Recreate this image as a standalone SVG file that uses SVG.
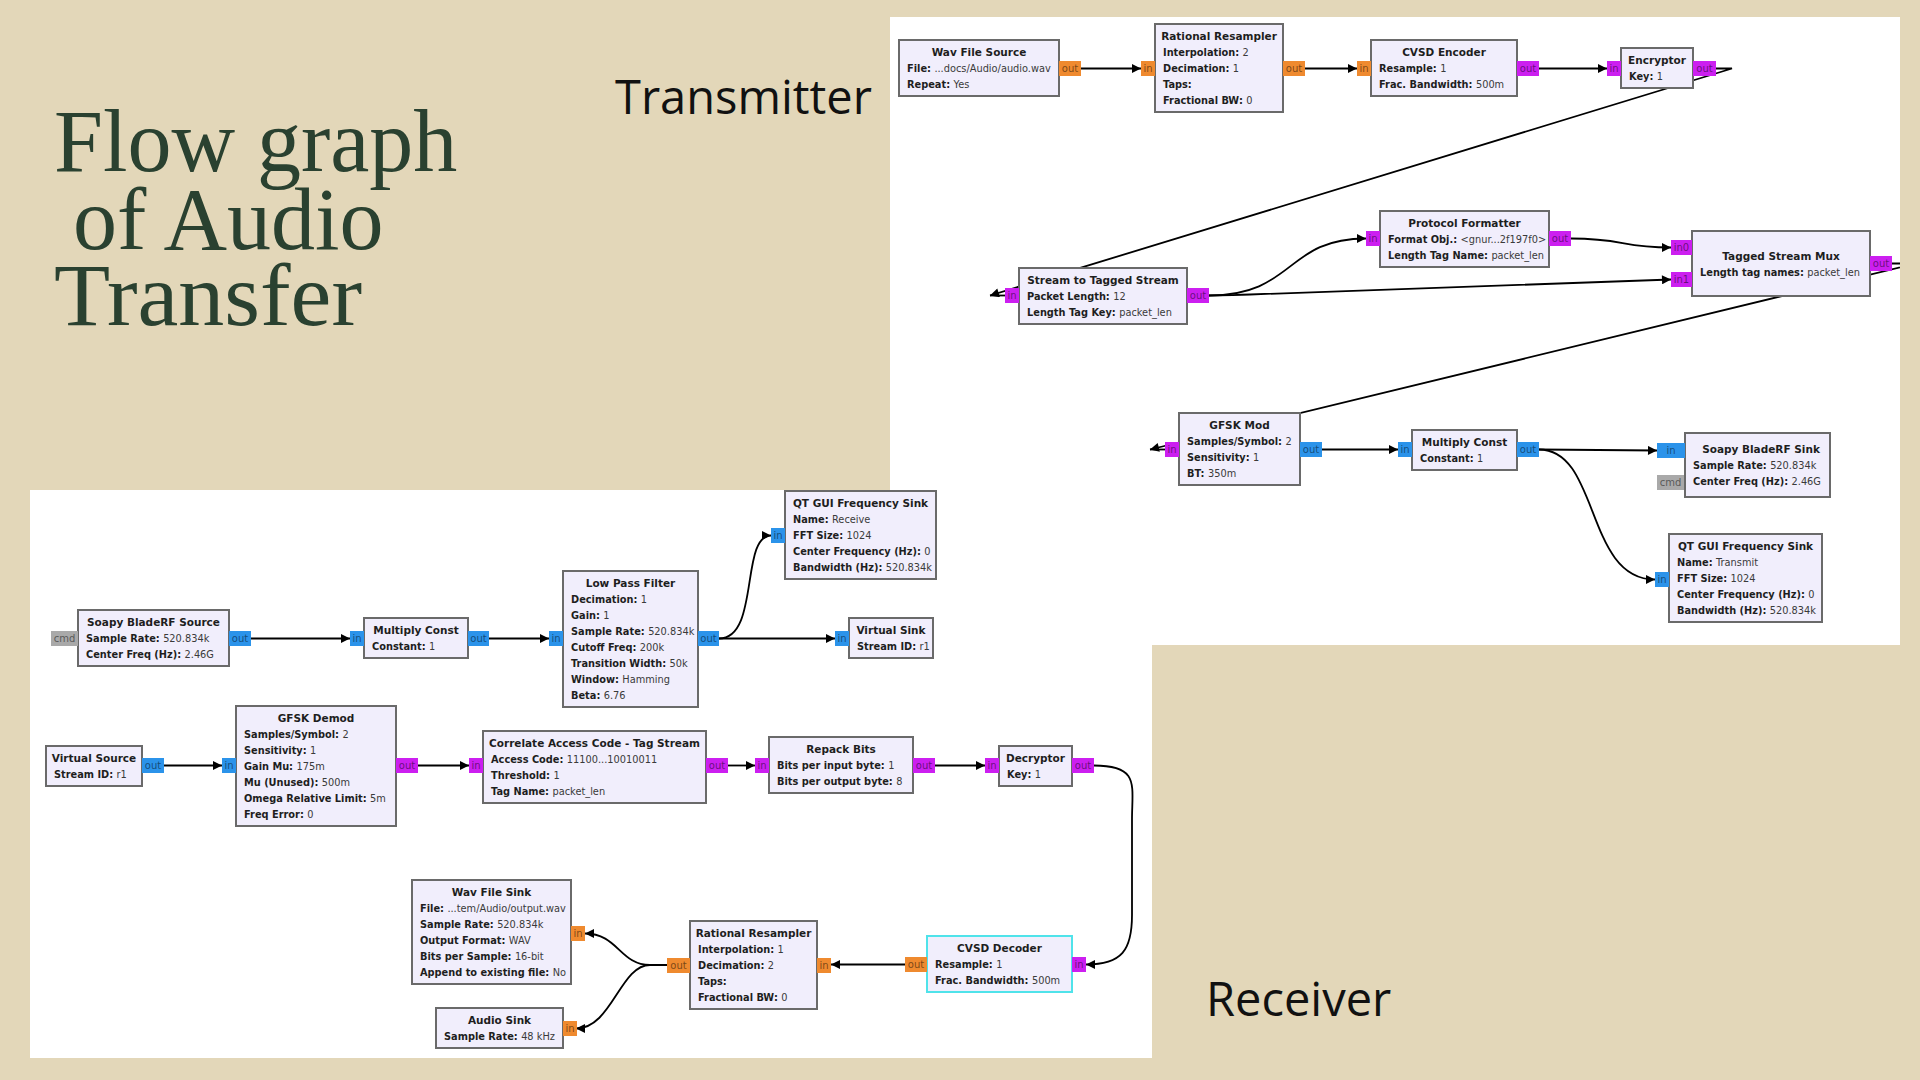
<svg xmlns="http://www.w3.org/2000/svg" width="1920" height="1080" viewBox="0 0 1920 1080">
<defs>
<style>
.bg{fill:#e3d7b9}
.panel{fill:#ffffff}
.blk{fill:#f1eefc;stroke:#6a6a6a;stroke-width:2}
.sel{fill:#f1eefc;stroke:#4fe3ea;stroke-width:2}
.tt{font-family:"DejaVu Sans",sans-serif;font-size:10.5px;font-weight:bold;fill:#1e1e1e;text-anchor:middle}
.r{font-family:"DejaVu Sans",sans-serif;font-size:9.8px;font-weight:bold;fill:#1e1e1e}
.v{font-weight:normal;fill:#3a3a3a}
.po{fill:#ef8a2f}
.pm{fill:#cc1ff0}
.pb{fill:#2b93ea}
.pg{fill:#a9a9a9}
.pl{font-family:"DejaVu Sans",sans-serif;font-size:10px;fill:#000;fill-opacity:0.5;text-anchor:middle}
.c{fill:none;stroke:#000;stroke-width:1.8}
.a{marker-end:url(#ah)}
.h1{font-family:"Liberation Serif",serif;font-size:88px;fill:#2a4130}
.h2{font-family:"Open Sans","Noto Sans",sans-serif;font-size:47px;fill:#111}
</style>
<marker id="ah" viewBox="0 0 10 10" refX="10" refY="5" markerWidth="11" markerHeight="9" markerUnits="userSpaceOnUse" orient="auto"><path d="M0,0 L10,5 L0,10 z" fill="#000"/></marker>
<clipPath id="txclip"><rect x="890" y="17" width="1010" height="628"/></clipPath>
<clipPath id="rxclip"><rect x="30" y="490" width="1122" height="568"/></clipPath>
</defs>
<rect class="bg" x="0" y="0" width="1920" height="1080"/>

<g id="heading">
<text class="h1" x="54" y="171">Flow graph</text>
<text class="h1" x="73" y="249">of Audio</text>
<text class="h1" x="54" y="325" textLength="308" lengthAdjust="spacingAndGlyphs">Transfer</text>
<text class="h2" x="615" y="114">Transmitter</text>
<text class="h2" x="1206" y="1016">Receiver</text>
</g>

<rect id="tx-panel" class="panel" x="890" y="17" width="1010" height="628"/>
<rect id="rx-panel" class="panel" x="30" y="490" width="1122" height="568"/>

<g id="connectors">
<g clip-path="url(#txclip)">
<path class="c a" d="M1081,68.5 L1141,68.5"/>
<path class="c a" d="M1305,68.5 L1357,68.5"/>
<path class="c a" d="M1539,68.5 L1607,68.5"/>
<path class="c a" d="M1716,68.5 L1732,68.5 L990,295.5"/>
<path class="c" d="M990,295.5 L1005,295.5"/>
<path class="c a" d="M1209,295.5 C1295,295.5 1285,238.5 1366,238.5"/>
<path class="c a" d="M1209,295.5 C1225,295.5 1230,295 1250,294.5 L1671,279.5"/>
<path class="c a" d="M1571,238.5 C1625,238.5 1620,247.5 1671,247.5"/>
<path class="c a" d="M1892,263.5 L1916,263.5 L1150,449.5"/>
<path class="c" d="M1150,449.5 L1165,449.5"/>
<path class="c a" d="M1322,449.5 L1398,449.5"/>
<path class="c a" d="M1539,449.5 L1657,450.5"/>
<path class="c a" d="M1539,449.5 C1600,449.5 1585,579.5 1655,579.5"/>
</g>
<g clip-path="url(#rxclip)">
<path class="c a" d="M251,638.5 L350,638.5"/>
<path class="c a" d="M489,638.5 L549,638.5"/>
<path class="c a" d="M719,638.5 L835,638.5"/>
<path class="c a" d="M719,638.5 C760,638.5 740,535.5 771,535.5"/>
<path class="c a" d="M164,765.5 L222,765.5"/>
<path class="c a" d="M418,765.5 L469,765.5"/>
<path class="c a" d="M728,765.5 L755,765.5"/>
<path class="c a" d="M935,765.5 L985,765.5"/>
<path class="c a" d="M1094,765.5 C1140,765.5 1132,785 1132,820 L1132,915 C1132,950 1122,964.5 1086,964.5"/>
<path class="c a" d="M905,964.5 L831,964.5"/>
<path class="c a" d="M667,965 L650,965 C620,965 618,933.5 585,933.5"/>
<path class="c a" d="M667,965 L650,965 C620,965 612,1028.5 576,1028.5"/>
</g>
</g>

<!-- Transmitter nodes -->
<g id="tx-wav-file-source">
<rect class="blk" x="899" y="40" width="160" height="56"/>
<text class="tt" x="979" y="56">Wav File Source</text>
<text class="r" x="907" y="72">File: <tspan class="v">...docs/Audio/audio.wav</tspan></text>
<text class="r" x="907" y="88">Repeat: <tspan class="v">Yes</tspan></text>
<rect class="po" x="1059" y="61" width="22" height="15"/><text class="pl" x="1070" y="72">out</text>
</g>
<g id="tx-rational-resampler">
<rect class="blk" x="1155" y="24" width="128" height="88"/>
<text class="tt" x="1219" y="40">Rational Resampler</text>
<text class="r" x="1163" y="56">Interpolation: <tspan class="v">2</tspan></text>
<text class="r" x="1163" y="72">Decimation: <tspan class="v">1</tspan></text>
<text class="r" x="1163" y="88">Taps:</text>
<text class="r" x="1163" y="104">Fractional BW: <tspan class="v">0</tspan></text>
<rect class="po" x="1141" y="61" width="14" height="15"/><text class="pl" x="1148" y="72">in</text>
<rect class="po" x="1283" y="61" width="22" height="15"/><text class="pl" x="1294" y="72">out</text>
</g>
<g id="tx-cvsd-encoder">
<rect class="blk" x="1371" y="40" width="146" height="56"/>
<text class="tt" x="1444" y="56">CVSD Encoder</text>
<text class="r" x="1379" y="72">Resample: <tspan class="v">1</tspan></text>
<text class="r" x="1379" y="88">Frac. Bandwidth: <tspan class="v">500m</tspan></text>
<rect class="po" x="1357" y="61" width="14" height="15"/><text class="pl" x="1364" y="72">in</text>
<rect class="pm" x="1517" y="61" width="22" height="15"/><text class="pl" x="1528" y="72">out</text>
</g>
<g id="tx-encryptor">
<rect class="blk" x="1621" y="48" width="72" height="40"/>
<text class="tt" x="1657" y="64">Encryptor</text>
<text class="r" x="1629" y="80">Key: <tspan class="v">1</tspan></text>
<rect class="pm" x="1607" y="61" width="14" height="15"/><text class="pl" x="1614" y="72">in</text>
<rect class="pm" x="1693" y="61" width="23" height="15"/><text class="pl" x="1704.5" y="72">out</text>
</g>
<g id="tx-stream-to-tagged-stream">
<rect class="blk" x="1019" y="268" width="168" height="56"/>
<text class="tt" x="1103" y="284">Stream to Tagged Stream</text>
<text class="r" x="1027" y="300">Packet Length: <tspan class="v">12</tspan></text>
<text class="r" x="1027" y="316">Length Tag Key: <tspan class="v">packet_len</tspan></text>
<rect class="pm" x="1005" y="288" width="14" height="15"/><text class="pl" x="1012" y="299">in</text>
<rect class="pm" x="1187" y="288" width="22" height="15"/><text class="pl" x="1198" y="299">out</text>
</g>
<g id="tx-protocol-formatter">
<rect class="blk" x="1380" y="211" width="169" height="56"/>
<text class="tt" x="1464.5" y="227">Protocol Formatter</text>
<text class="r" x="1388" y="243">Format Obj.: <tspan class="v">&lt;gnur...2f197f0&gt;</tspan></text>
<text class="r" x="1388" y="259">Length Tag Name: <tspan class="v">packet_len</tspan></text>
<rect class="pm" x="1366" y="231" width="14" height="15"/><text class="pl" x="1373" y="242">in</text>
<rect class="pm" x="1549" y="231" width="22" height="15"/><text class="pl" x="1560" y="242">out</text>
</g>
<g id="tx-tagged-stream-mux">
<rect class="blk" x="1692" y="231" width="178" height="65"/>
<text class="tt" x="1781" y="260">Tagged Stream Mux</text>
<text class="r" x="1700" y="276">Length tag names: <tspan class="v">packet_len</tspan></text>
<rect class="pm" x="1671" y="240" width="21" height="15"/><text class="pl" x="1681.5" y="251">in0</text>
<rect class="pm" x="1671" y="272" width="21" height="15"/><text class="pl" x="1681.5" y="283">in1</text>
<rect class="pm" x="1870" y="256" width="22" height="15"/><text class="pl" x="1881" y="267">out</text>
</g>
<g id="tx-gfsk-mod">
<rect class="blk" x="1179" y="413" width="121" height="72"/>
<text class="tt" x="1239.5" y="429">GFSK Mod</text>
<text class="r" x="1187" y="445">Samples/Symbol: <tspan class="v">2</tspan></text>
<text class="r" x="1187" y="461">Sensitivity: <tspan class="v">1</tspan></text>
<text class="r" x="1187" y="477">BT: <tspan class="v">350m</tspan></text>
<rect class="pm" x="1165" y="442" width="14" height="15"/><text class="pl" x="1172" y="453">in</text>
<rect class="pb" x="1300" y="442" width="22" height="15"/><text class="pl" x="1311" y="453">out</text>
</g>
<g id="tx-multiply-const">
<rect class="blk" x="1412" y="430" width="105" height="40"/>
<text class="tt" x="1464.5" y="446">Multiply Const</text>
<text class="r" x="1420" y="462">Constant: <tspan class="v">1</tspan></text>
<rect class="pb" x="1398" y="442" width="14" height="15"/><text class="pl" x="1405" y="453">in</text>
<rect class="pb" x="1517" y="442" width="22" height="15"/><text class="pl" x="1528" y="453">out</text>
</g>
<g id="tx-soapy-bladerf-sink">
<rect class="blk" x="1685" y="433" width="145" height="64"/>
<text class="tt" x="1761" y="453">Soapy BladeRF Sink</text>
<text class="r" x="1693" y="469">Sample Rate: <tspan class="v">520.834k</tspan></text>
<text class="r" x="1693" y="485">Center Freq (Hz): <tspan class="v">2.46G</tspan></text>
<rect class="pb" x="1657" y="443" width="28" height="15"/><text class="pl" x="1671" y="454">in</text>
<rect class="pg" x="1657" y="475" width="27" height="15"/><text class="pl" x="1670.5" y="486">cmd</text>
</g>
<g id="tx-qt-gui-frequency-sink">
<rect class="blk" x="1669" y="534" width="153" height="88"/>
<text class="tt" x="1745.5" y="550">QT GUI Frequency Sink</text>
<text class="r" x="1677" y="566">Name: <tspan class="v">Transmit</tspan></text>
<text class="r" x="1677" y="582">FFT Size: <tspan class="v">1024</tspan></text>
<text class="r" x="1677" y="598">Center Frequency (Hz): <tspan class="v">0</tspan></text>
<text class="r" x="1677" y="614">Bandwidth (Hz): <tspan class="v">520.834k</tspan></text>
<rect class="pb" x="1655" y="572" width="14" height="15"/><text class="pl" x="1662" y="583">in</text>
</g>

<!-- Receiver nodes -->
<g id="rx-soapy-bladerf-source">
<rect class="blk" x="78" y="610" width="151" height="56"/>
<text class="tt" x="153.5" y="626">Soapy BladeRF Source</text>
<text class="r" x="86" y="642">Sample Rate: <tspan class="v">520.834k</tspan></text>
<text class="r" x="86" y="658">Center Freq (Hz): <tspan class="v">2.46G</tspan></text>
<rect class="pg" x="51" y="631" width="27" height="15"/><text class="pl" x="64.5" y="642">cmd</text>
<rect class="pb" x="229" y="631" width="22" height="15"/><text class="pl" x="240" y="642">out</text>
</g>
<g id="rx-multiply-const">
<rect class="blk" x="364" y="618" width="104" height="40"/>
<text class="tt" x="416" y="634">Multiply Const</text>
<text class="r" x="372" y="650">Constant: <tspan class="v">1</tspan></text>
<rect class="pb" x="350" y="631" width="14" height="15"/><text class="pl" x="357" y="642">in</text>
<rect class="pb" x="468" y="631" width="21" height="15"/><text class="pl" x="478.5" y="642">out</text>
</g>
<g id="rx-low-pass-filter">
<rect class="blk" x="563" y="571" width="135" height="136"/>
<text class="tt" x="630.5" y="587">Low Pass Filter</text>
<text class="r" x="571" y="603">Decimation: <tspan class="v">1</tspan></text>
<text class="r" x="571" y="619">Gain: <tspan class="v">1</tspan></text>
<text class="r" x="571" y="635">Sample Rate: <tspan class="v">520.834k</tspan></text>
<text class="r" x="571" y="651">Cutoff Freq: <tspan class="v">200k</tspan></text>
<text class="r" x="571" y="667">Transition Width: <tspan class="v">50k</tspan></text>
<text class="r" x="571" y="683">Window: <tspan class="v">Hamming</tspan></text>
<text class="r" x="571" y="699">Beta: <tspan class="v">6.76</tspan></text>
<rect class="pb" x="549" y="631" width="14" height="15"/><text class="pl" x="556" y="642">in</text>
<rect class="pb" x="698" y="631" width="21" height="15"/><text class="pl" x="708.5" y="642">out</text>
</g>
<g id="rx-qt-gui-frequency-sink">
<rect class="blk" x="785" y="491" width="151" height="88"/>
<text class="tt" x="860.5" y="507">QT GUI Frequency Sink</text>
<text class="r" x="793" y="523">Name: <tspan class="v">Receive</tspan></text>
<text class="r" x="793" y="539">FFT Size: <tspan class="v">1024</tspan></text>
<text class="r" x="793" y="555">Center Frequency (Hz): <tspan class="v">0</tspan></text>
<text class="r" x="793" y="571">Bandwidth (Hz): <tspan class="v">520.834k</tspan></text>
<rect class="pb" x="771" y="528" width="14" height="15"/><text class="pl" x="778" y="539">in</text>
</g>
<g id="rx-virtual-sink">
<rect class="blk" x="849" y="618" width="84" height="40"/>
<text class="tt" x="891" y="634">Virtual Sink</text>
<text class="r" x="857" y="650">Stream ID: <tspan class="v">r1</tspan></text>
<rect class="pb" x="835" y="631" width="14" height="15"/><text class="pl" x="842" y="642">in</text>
</g>
<g id="rx-virtual-source">
<rect class="blk" x="46" y="746" width="96" height="40"/>
<text class="tt" x="94" y="762">Virtual Source</text>
<text class="r" x="54" y="778">Stream ID: <tspan class="v">r1</tspan></text>
<rect class="pb" x="142" y="758" width="22" height="15"/><text class="pl" x="153" y="769">out</text>
</g>
<g id="rx-gfsk-demod">
<rect class="blk" x="236" y="706" width="160" height="120"/>
<text class="tt" x="316" y="722">GFSK Demod</text>
<text class="r" x="244" y="738">Samples/Symbol: <tspan class="v">2</tspan></text>
<text class="r" x="244" y="754">Sensitivity: <tspan class="v">1</tspan></text>
<text class="r" x="244" y="770">Gain Mu: <tspan class="v">175m</tspan></text>
<text class="r" x="244" y="786">Mu (Unused): <tspan class="v">500m</tspan></text>
<text class="r" x="244" y="802">Omega Relative Limit: <tspan class="v">5m</tspan></text>
<text class="r" x="244" y="818">Freq Error: <tspan class="v">0</tspan></text>
<rect class="pb" x="222" y="758" width="14" height="15"/><text class="pl" x="229" y="769">in</text>
<rect class="pm" x="396" y="758" width="22" height="15"/><text class="pl" x="407" y="769">out</text>
</g>
<g id="rx-correlate-access-code">
<rect class="blk" x="483" y="731" width="223" height="72"/>
<text class="tt" x="594.5" y="747">Correlate Access Code - Tag Stream</text>
<text class="r" x="491" y="763">Access Code: <tspan class="v">11100...10010011</tspan></text>
<text class="r" x="491" y="779">Threshold: <tspan class="v">1</tspan></text>
<text class="r" x="491" y="795">Tag Name: <tspan class="v">packet_len</tspan></text>
<rect class="pm" x="469" y="758" width="14" height="15"/><text class="pl" x="476" y="769">in</text>
<rect class="pm" x="706" y="758" width="22" height="15"/><text class="pl" x="717" y="769">out</text>
</g>
<g id="rx-repack-bits">
<rect class="blk" x="769" y="737" width="144" height="56"/>
<text class="tt" x="841" y="753">Repack Bits</text>
<text class="r" x="777" y="769">Bits per input byte: <tspan class="v">1</tspan></text>
<text class="r" x="777" y="785">Bits per output byte: <tspan class="v">8</tspan></text>
<rect class="pm" x="755" y="758" width="14" height="15"/><text class="pl" x="762" y="769">in</text>
<rect class="pm" x="913" y="758" width="22" height="15"/><text class="pl" x="924" y="769">out</text>
</g>
<g id="rx-decryptor">
<rect class="blk" x="999" y="746" width="73" height="40"/>
<text class="tt" x="1035.5" y="762">Decryptor</text>
<text class="r" x="1007" y="778">Key: <tspan class="v">1</tspan></text>
<rect class="pm" x="985" y="758" width="14" height="15"/><text class="pl" x="992" y="769">in</text>
<rect class="pm" x="1072" y="758" width="22" height="15"/><text class="pl" x="1083" y="769">out</text>
</g>
<g id="rx-cvsd-decoder">
<rect class="sel" x="927" y="936" width="145" height="56"/>
<text class="tt" x="999.5" y="952">CVSD Decoder</text>
<text class="r" x="935" y="968">Resample: <tspan class="v">1</tspan></text>
<text class="r" x="935" y="984">Frac. Bandwidth: <tspan class="v">500m</tspan></text>
<rect class="pm" x="1072" y="957" width="14" height="15"/><text class="pl" x="1079" y="968">in</text>
<rect class="po" x="905" y="957" width="22" height="15"/><text class="pl" x="916" y="968">out</text>
</g>
<g id="rx-rational-resampler">
<rect class="blk" x="690" y="921" width="127" height="88"/>
<text class="tt" x="753.5" y="937">Rational Resampler</text>
<text class="r" x="698" y="953">Interpolation: <tspan class="v">1</tspan></text>
<text class="r" x="698" y="969">Decimation: <tspan class="v">2</tspan></text>
<text class="r" x="698" y="985">Taps:</text>
<text class="r" x="698" y="1001">Fractional BW: <tspan class="v">0</tspan></text>
<rect class="po" x="817" y="958" width="14" height="15"/><text class="pl" x="824" y="969">in</text>
<rect class="po" x="667" y="958" width="23" height="15"/><text class="pl" x="678.5" y="969">out</text>
</g>
<g id="rx-wav-file-sink">
<rect class="blk" x="412" y="880" width="159" height="104"/>
<text class="tt" x="491.5" y="896">Wav File Sink</text>
<text class="r" x="420" y="912">File: <tspan class="v">...tem/Audio/output.wav</tspan></text>
<text class="r" x="420" y="928">Sample Rate: <tspan class="v">520.834k</tspan></text>
<text class="r" x="420" y="944">Output Format: <tspan class="v">WAV</tspan></text>
<text class="r" x="420" y="960">Bits per Sample: <tspan class="v">16-bit</tspan></text>
<text class="r" x="420" y="976">Append to existing file: <tspan class="v">No</tspan></text>
<rect class="po" x="571" y="926" width="14" height="15"/><text class="pl" x="578" y="937">in</text>
</g>
<g id="rx-audio-sink">
<rect class="blk" x="436" y="1008" width="127" height="40"/>
<text class="tt" x="499.5" y="1024">Audio Sink</text>
<text class="r" x="444" y="1040">Sample Rate: <tspan class="v">48 kHz</tspan></text>
<rect class="po" x="563" y="1021" width="14" height="15"/><text class="pl" x="570" y="1032">in</text>
</g>
</svg>
